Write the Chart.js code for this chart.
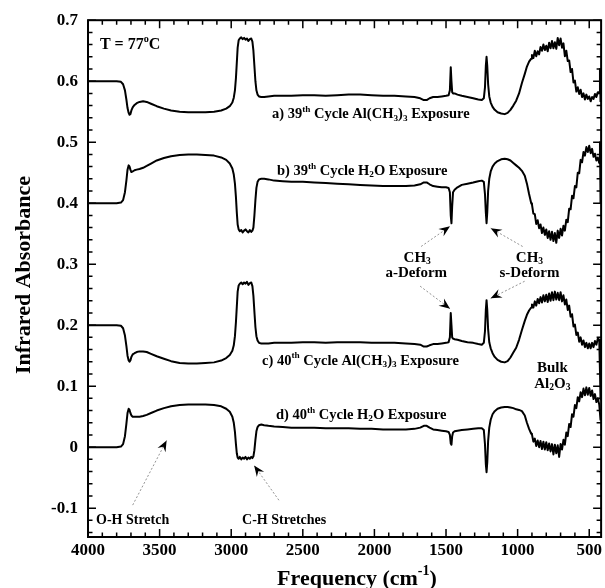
<!DOCTYPE html>
<html>
<head>
<meta charset="utf-8">
<script src="https://cdn.jsdelivr.net/npm/chart.js@4.4.1/dist/chart.umd.min.js"></script>
<style>
  body { margin: 0; background: #fff; }
  #wrap { width: 605px; height: 588px; }
</style>
</head>
<body>
<div id="wrap"><canvas id="irChart"></canvas></div>
<script>
// tick labels
const xTicks = [4000, 3500, 3000, 2500, 2000, 1500, 1000, 500];
const yTicks = [-0.1, 0, 0.1, 0.2, 0.3, 0.4, 0.5, 0.6, 0.7];

// a) 39th cycle Al(CH3)3 exposure  [frequency cm-1, absorbance]
const traceA = [
  [4000,.600],[3800,.600],[3770,.599],[3755,.595],[3742,.585],[3732,.570],[3724,.556],[3716,.548],[3710,.545],
  [3704,.546],[3697,.552],[3688,.557],[3675,.561],[3660,.564],[3640,.566],[3615,.567],[3590,.566],[3560,.563],
  [3520,.559],[3470,.555],[3420,.552],[3360,.550],[3300,.549],[3240,.549],[3180,.549],[3120,.550],[3070,.552],
  [3035,.555],[3010,.559],[2992,.565],[2982,.573],[2974,.585],[2967,.605],[2961,.630],[2955,.655],[2948,.667],
  [2940,.670],[2930,.672],[2920,.669],[2910,.671],[2900,.668],[2890,.670],[2880,.666],[2870,.669],[2860,.670],
  [2852,.665],[2845,.650],[2838,.625],[2831,.600],[2824,.585],[2816,.578],[2806,.575],[2790,.574],[2770,.574],
  [2740,.575],[2700,.576],[2640,.576],[2580,.576],[2500,.577],[2420,.577],[2340,.576],[2260,.577],[2180,.578],
  [2100,.578],[2020,.577],[1940,.576],[1860,.576],[1780,.575],[1720,.574],[1680,.572],[1655,.569],[1635,.569],
  [1615,.572],[1590,.574],[1560,.574],[1530,.575],[1500,.576],[1482,.577],[1473,.585],[1467,.623],[1462,.600],
  [1457,.582],[1451,.580],[1440,.580],[1420,.578],[1390,.576],[1350,.574],[1310,.572],[1275,.570],[1250,.569],
  [1236,.572],[1228,.590],[1222,.625],[1217,.640],[1212,.625],[1206,.595],[1198,.575],[1188,.565],[1175,.558],
  [1160,.553],[1140,.549],[1115,.547],[1090,.546],[1070,.548],[1050,.553],[1030,.560],[1010,.568],[990,.580],
  [970,.597],[950,.612],[935,.624],[920,.632],[905,.637],
  [900,.643],[890,.638],[880,.650],[870,.641],[860,.649],[850,.644],[840,.656],[830,.650],[820,.660],[810,.651],
  [800,.658],[790,.649],[780,.663],[770,.654],[760,.666],[750,.654],[740,.664],[730,.653],[720,.671],[710,.659],
  [700,.670],[690,.655],[680,.662],[670,.641],[660,.650],[650,.633],[640,.634],[630,.615],[620,.620],[610,.598],
  [600,.601],[590,.583],[580,.590],[570,.579],[560,.586],[550,.574],[540,.580],[530,.570],[520,.578],[510,.571],
  [500,.575],[490,.567],[480,.574],[470,.571],[460,.579],[450,.574],[440,.582],[430,.582],[425,.620],[421,.566]
];

// b) 39th cycle H2O exposure
const traceB = [
  [4000,.400],[3800,.400],[3770,.401],[3755,.405],[3742,.418],[3732,.437],[3724,.455],[3716,.462],[3710,.460],
  [3704,.455],[3697,.451],[3688,.452],[3675,.454],[3660,.455],[3640,.456],[3615,.458],[3590,.461],[3560,.465],
  [3520,.470],[3470,.474],[3420,.477],[3360,.479],[3300,.480],[3240,.480],[3180,.479],[3120,.478],[3070,.475],
  [3035,.471],[3010,.465],[2992,.457],[2982,.447],[2974,.432],[2967,.410],[2961,.385],[2955,.365],[2948,.357],
  [2940,.354],[2930,.356],[2920,.352],[2910,.355],[2900,.357],[2890,.354],[2880,.352],[2870,.356],[2860,.353],
  [2852,.355],[2845,.360],[2838,.380],[2831,.405],[2824,.425],[2816,.435],[2806,.439],[2790,.440],[2770,.440],
  [2740,.439],[2700,.437],[2640,.436],[2580,.435],[2500,.435],[2420,.434],[2340,.433],[2260,.432],[2180,.431],
  [2100,.430],[2020,.429],[1940,.428],[1860,.428],[1780,.428],[1720,.429],[1680,.431],[1655,.434],[1635,.434],
  [1615,.431],[1590,.428],[1560,.427],[1530,.426],[1500,.426],[1482,.425],[1473,.418],[1467,.380],[1462,.367],
  [1457,.395],[1451,.418],[1440,.422],[1420,.426],[1390,.430],[1350,.432],[1310,.434],[1275,.436],[1250,.437],
  [1236,.435],[1228,.415],[1222,.385],[1217,.367],[1212,.385],[1206,.420],[1198,.440],[1188,.452],[1175,.460],
  [1160,.465],[1140,.469],[1115,.472],[1090,.473],[1070,.472],[1050,.470],[1030,.466],[1010,.462],[990,.458],
  [970,.453],[950,.445],[935,.432],[920,.415],[905,.400],
  [900,.398],[890,.383],[880,.382],[870,.366],[860,.372],[850,.359],[840,.365],[830,.351],[820,.360],[810,.348],
  [800,.357],[790,.343],[780,.354],[770,.340],[760,.353],[750,.338],[740,.351],[730,.335],[720,.355],[710,.343],
  [700,.358],[690,.347],[680,.363],[670,.355],[660,.373],[650,.369],[640,.391],[630,.390],[620,.412],[610,.408],
  [600,.428],[590,.426],[580,.450],[570,.449],[560,.471],[550,.467],[540,.484],[530,.478],[520,.492],[510,.484],
  [500,.494],[490,.482],[480,.489],[470,.476],[460,.481],[450,.470],[440,.475],[430,.466],[425,.500],[421,.400]
];

// c) 40th cycle Al(CH3)3 exposure
const traceC = [
  [4000,.200],[3800,.200],[3770,.199],[3755,.195],[3742,.183],[3732,.166],[3724,.150],[3716,.142],[3710,.140],
  [3704,.142],[3697,.148],[3688,.152],[3675,.154],[3660,.156],[3640,.157],[3615,.157],[3590,.156],[3560,.153],
  [3520,.149],[3470,.145],[3420,.141],[3360,.138],[3300,.137],[3240,.137],[3180,.138],[3120,.139],[3070,.142],
  [3035,.146],[3010,.151],[2992,.158],[2982,.167],[2974,.182],[2967,.205],[2961,.230],[2955,.255],[2948,.265],
  [2940,.268],[2930,.270],[2920,.267],[2910,.270],[2900,.268],[2890,.271],[2880,.266],[2870,.269],[2860,.270],
  [2852,.264],[2845,.248],[2838,.222],[2831,.197],[2824,.182],[2816,.175],[2806,.171],[2790,.170],[2770,.170],
  [2740,.170],[2700,.171],[2640,.171],[2580,.171],[2500,.172],[2420,.172],[2340,.171],[2260,.172],[2180,.172],
  [2100,.172],[2020,.171],[1940,.171],[1860,.171],[1780,.170],[1720,.169],[1680,.168],[1655,.165],[1635,.165],
  [1615,.167],[1590,.169],[1560,.169],[1530,.170],[1500,.171],[1482,.172],[1473,.180],[1467,.220],[1462,.200],
  [1457,.180],[1451,.178],[1440,.177],[1420,.176],[1390,.174],[1350,.172],[1310,.171],[1275,.169],[1250,.168],
  [1236,.171],[1228,.190],[1222,.225],[1217,.241],[1212,.225],[1206,.193],[1198,.172],[1188,.162],[1175,.154],
  [1160,.148],[1140,.143],[1115,.140],[1090,.139],[1070,.141],[1050,.147],[1030,.155],[1010,.163],[990,.176],
  [970,.192],[950,.207],[935,.217],[920,.224],[905,.229],
  [900,.234],[890,.229],[880,.239],[870,.232],[860,.243],[850,.236],[840,.246],[830,.237],[820,.249],[810,.239],
  [800,.250],[790,.238],[780,.252],[770,.240],[760,.254],[750,.241],[740,.255],[730,.242],[720,.253],[710,.241],
  [700,.254],[690,.239],[680,.249],[670,.234],[660,.242],[650,.225],[640,.232],[630,.214],[620,.218],[610,.198],
  [600,.201],[590,.184],[580,.188],[570,.173],[560,.180],[550,.168],[540,.175],[530,.164],[520,.171],[510,.162],
  [500,.170],[490,.162],[480,.171],[470,.164],[460,.174],[450,.168],[440,.178],[430,.176],[425,.125],[421,.077]
];

// d) 40th cycle H2O exposure
const traceD = [
  [4000,.000],[3800,.000],[3770,.001],[3755,.005],[3742,.018],[3732,.038],[3724,.056],[3716,.063],[3710,.061],
  [3704,.056],[3697,.052],[3688,.050],[3675,.050],[3660,.050],[3640,.050],[3615,.051],[3590,.053],[3560,.056],
  [3520,.060],[3470,.064],[3420,.067],[3360,.069],[3300,.070],[3240,.070],[3180,.070],[3120,.069],[3070,.067],
  [3035,.063],[3010,.058],[2992,.050],[2982,.040],[2974,.025],[2967,.005],[2961,-.010],[2955,-.017],[2948,-.019],
  [2940,-.016],[2930,-.020],[2920,-.017],[2910,-.019],[2900,-.016],[2890,-.020],[2880,-.017],[2870,-.019],[2860,-.016],
  [2852,-.018],[2845,-.015],[2838,-.005],[2831,.012],[2824,.026],[2816,.033],[2806,.036],[2790,.037],[2770,.036],
  [2740,.035],[2700,.034],[2640,.033],[2580,.032],[2500,.032],[2420,.032],[2340,.031],[2260,.031],[2180,.031],
  [2100,.030],[2020,.030],[1940,.029],[1860,.029],[1780,.029],[1720,.030],[1680,.032],[1655,.035],[1635,.035],
  [1615,.032],[1590,.029],[1560,.028],[1530,.027],[1500,.026],[1482,.025],[1473,.020],[1467,.006],[1462,.004],
  [1457,.018],[1451,.024],[1440,.026],[1420,.027],[1390,.028],[1350,.029],[1310,.030],[1275,.031],[1250,.031],
  [1236,.028],[1228,.005],[1222,-.028],[1217,-.041],[1212,-.025],[1206,.010],[1198,.032],[1188,.045],[1175,.054],
  [1160,.059],[1140,.063],[1115,.065],[1090,.066],[1070,.066],[1050,.065],[1030,.064],[1010,.062],[990,.061],
  [970,.059],[950,.052],[935,.040],[920,.030],[905,.022],
  [900,.021],[890,.009],[880,.014],[870,.002],[860,.011],[850,.000],[840,.010],[830,-.003],[820,.009],[810,-.004],
  [800,.008],[790,-.005],[780,.006],[770,-.007],[760,.005],[750,-.012],[740,.004],[730,-.010],[720,.003],[710,-.016],
  [700,.005],[690,-.004],[680,.012],[670,.004],[660,.024],[650,.018],[640,.038],[630,.033],[620,.054],[610,.050],
  [600,.069],[590,.064],[580,.082],[570,.075],[560,.090],[550,.082],[540,.096],[530,.085],[520,.098],[510,.086],
  [500,.097],[490,.084],[480,.093],[470,.079],[460,.087],[450,.074],[440,.080],[430,.070],[425,.070],[421,.044]
];

// text labels: [freq, absorbance, align, size, parts]  (parts: [text, 'n'|'sup'|'sub'])
const notes = [
  [3917, 0.659, 'left', 16, [['T = 77','n'],['o','sup'],['C','n']]],
  [2715, 0.545, 'left', 14.5, [['a) 39','n'],['th','sup'],[' Cycle Al(CH','n'],['3','sub'],[')','n'],['3','sub'],[' Exposure','n']]],
  [2681, 0.452, 'left', 14.5, [['b) 39','n'],['th','sup'],[' Cycle H','n'],['2','sub'],['O Exposure','n']]],
  [2785, 0.1416, 'left', 14.5, [['c) 40','n'],['th','sup'],[' Cycle Al(CH','n'],['3','sub'],[')','n'],['3','sub'],[' Exposure','n']]],
  [2688, 0.052, 'left', 14.5, [['d) 40','n'],['th','sup'],[' Cycle H','n'],['2','sub'],['O Exposure','n']]],
  [1701, 0.310, 'center', 15, [['CH','n'],['3','sub']]],
  [1708, 0.285, 'center', 15, [['a-Deform','n']]],
  [917, 0.310, 'center', 15, [['CH','n'],['3','sub']]],
  [917, 0.285, 'center', 15, [['s-Deform','n']]],
  [757, 0.130, 'center', 15, [['Bulk','n']]],
  [757, 0.104, 'center', 15, [['Al','n'],['2','sub'],['O','n'],['3','sub']]],
  [3944, -0.120, 'left', 14, [['O-H Stretch','n']]],
  [2924, -0.120, 'left', 14, [['C-H Stretches','n']]]
];

// arrows: [fromFreq, fromAbs, tipFreq, tipAbs]
const arrows = [
  [1674, 0.329, 1472, 0.362],
  [965, 0.329, 1188, 0.359],
  [1681, 0.264, 1472, 0.227],
  [951, 0.272, 1188, 0.244],
  [3688, -0.095, 3451, 0.011],
  [2667, -0.087, 2840, -0.030]
];

const FONT = '"Liberation Serif", "Times New Roman", serif';

function drawRich(ctx, parts, x, y, align, size) {
  const spec = p => {
    if (p[1] === 'sup') return { s: size * 0.64, dy: -size * 0.36 };
    if (p[1] === 'sub') return { s: size * 0.64, dy: size * 0.24 };
    return { s: size, dy: 0 };
  };
  let total = 0;
  parts.forEach(p => { ctx.font = 'bold ' + spec(p).s + 'px ' + FONT; total += ctx.measureText(p[0]).width; });
  let cx = align === 'center' ? x - total / 2 : x;
  ctx.textAlign = 'left';
  ctx.textBaseline = 'middle';
  parts.forEach(p => {
    const sp = spec(p);
    ctx.font = 'bold ' + sp.s + 'px ' + FONT;
    ctx.fillText(p[0], cx, y + sp.dy);
    cx += ctx.measureText(p[0]).width;
  });
}

function drawArrow(ctx, x1, y1, x2, y2) {
  ctx.save();
  ctx.strokeStyle = '#777';
  ctx.lineWidth = 0.8;
  ctx.setLineDash([2, 2]);
  ctx.beginPath();
  ctx.moveTo(x1, y1);
  ctx.lineTo(x2, y2);
  ctx.stroke();
  ctx.setLineDash([]);
  const ang = Math.atan2(y2 - y1, x2 - x1);
  const L = 11, W = 4.5;
  ctx.fillStyle = '#000';
  ctx.beginPath();
  ctx.moveTo(x2, y2);
  ctx.lineTo(x2 - L * Math.cos(ang) + W * Math.sin(ang), y2 - L * Math.sin(ang) - W * Math.cos(ang));
  ctx.lineTo(x2 - L * 0.65 * Math.cos(ang), y2 - L * 0.65 * Math.sin(ang));
  ctx.lineTo(x2 - L * Math.cos(ang) - W * Math.sin(ang), y2 - L * Math.sin(ang) + W * Math.cos(ang));
  ctx.closePath();
  ctx.fill();
  ctx.restore();
}

const decor = {
  id: 'decor',
  afterDraw(chart) {
    const { ctx, chartArea: a, scales: { x, y } } = chart;
    ctx.save();
    ctx.strokeStyle = '#000';
    ctx.fillStyle = '#000';

    // ticks, pointing inward on all four sides
    ctx.lineWidth = 1.5;
    ctx.beginPath();
    for (let f = 500; f <= 4000; f += 100) {
      const px = x.getPixelForValue(f);
      const len = f % 500 === 0 ? 8 : 4.5;
      ctx.moveTo(px, a.bottom); ctx.lineTo(px, a.bottom - len);
      ctx.moveTo(px, a.top); ctx.lineTo(px, a.top + len);
    }
    for (let i = -7; i <= 35; i++) {
      const v = i * 0.02;
      const py = y.getPixelForValue(v);
      const len = i % 5 === 0 ? 8 : 4.5;
      ctx.moveTo(a.left, py); ctx.lineTo(a.left + len, py);
      ctx.moveTo(a.right, py); ctx.lineTo(a.right - len, py);
    }
    ctx.stroke();

    // frame
    ctx.lineWidth = 2;
    ctx.strokeRect(a.left, a.top, a.right - a.left, a.bottom - a.top);

    // annotations
    notes.forEach(n => drawRich(ctx, n[4], x.getPixelForValue(n[0]), y.getPixelForValue(n[1]), n[2], n[3]));
    arrows.forEach(r => drawArrow(ctx, x.getPixelForValue(r[0]), y.getPixelForValue(r[1]),
                                       x.getPixelForValue(r[2]), y.getPixelForValue(r[3])));

    // axis titles
    drawRich(ctx, [['Frequency (cm','n'],['-1','sup'],[')','n']], 357, 579, 'center', 22);
    ctx.save();
    ctx.translate(24, 275);
    ctx.rotate(-Math.PI / 2);
    drawRich(ctx, [['Infrared Absorbance','n']], 0, 0, 'center', 22);
    ctx.restore();

    ctx.restore();
  }
};

const mk = (pts) => ({
  data: pts.map(p => ({ x: p[0], y: p[1] })),
  borderColor: '#000',
  borderWidth: 2,
  pointRadius: 0,
  tension: 0,
  fill: false
});

new Chart(document.getElementById('irChart'), {
  type: 'line',
  data: { datasets: [mk(traceA), mk(traceB), mk(traceC), mk(traceD)] },
  options: {
    responsive: true,
    maintainAspectRatio: false,
    animation: false,
    layout: { padding: { top: 18, right: 1, left: 0, bottom: 0 }, autoPadding: false },
    plugins: { legend: { display: false }, tooltip: { enabled: false } },
    elements: { line: { borderJoinStyle: 'round' } },
    scales: {
      x: {
        type: 'linear',
        reverse: true,
        min: 417,
        max: 4000,
        grid: { display: false, drawTicks: false },
        border: { display: false },
        afterBuildTicks: s => { s.ticks = xTicks.map(v => ({ value: v })); },
        afterFit: s => { s.height = 51; },
        ticks: {
          autoSkip: false,
          maxRotation: 0,
          padding: 3,
          color: '#000',
          font: { family: FONT, size: 17, weight: 'bold' },
          callback: v => String(v)
        }
      },
      y: {
        type: 'linear',
        min: -0.1473,
        max: 0.7,
        grid: { display: false, drawTicks: false },
        border: { display: false },
        afterBuildTicks: s => { s.ticks = yTicks.map(v => ({ value: v })); },
        afterFit: s => { s.width = 88; },
        ticks: {
          padding: 10,
          color: '#000',
          font: { family: FONT, size: 17, weight: 'bold' },
          callback: v => (v === 0 ? '0' : v.toFixed(1))
        }
      }
    }
  },
  plugins: [decor]
});
</script>
</body>
</html>
